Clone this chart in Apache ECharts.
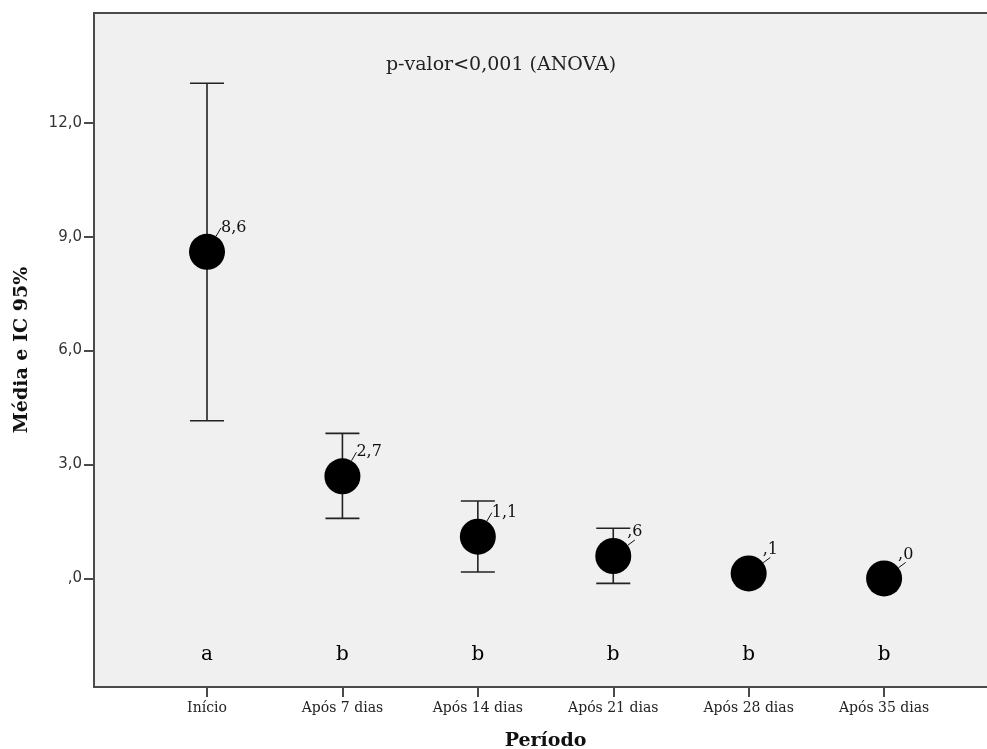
<!DOCTYPE html>
<html>
<head>
<meta charset="utf-8">
<script src="https://cdn.jsdelivr.net/npm/echarts@6/dist/echarts.min.js"></script>
<style>
  html, body { margin: 0; padding: 0; background: #fff; }
  #chart { width: 987px; height: 749px; }
</style>
</head>
<body>
<div id="chart"></div>
<script>
// categorias (período)
var categories = ['Início', 'Após 7 dias', 'Após 14 dias', 'Após 21 dias', 'Após 28 dias', 'Após 35 dias'];
// média e IC 95%
var means = [8.6, 2.69, 1.1, 0.59, 0.13, 0.0];
var ciLow = [4.15, 1.58, 0.17, -0.13, null, null];
var ciHigh = [13.04, 3.82, 2.04, 1.32, null, null];
// letras de comparação
var groupLetters = ['a', 'b', 'b', 'b', 'b', 'b'];
var letterLevel = -2;
var yTicks = [0, 3, 6, 9, 12];
var subtitle = 'p-valor<0,001 (ANOVA)';

function fmt(v) {
  var s = v.toFixed(1);
  if (s.indexOf('0.') === 0) s = s.slice(1);
  if (s.indexOf('-0.') === 0) s = '-' + s.slice(2);
  return s.replace('.', ',');
}

var errData = [];
for (var i = 0; i < categories.length; i++) {
  if (ciLow[i] != null) errData.push([i, ciLow[i], ciHigh[i]]);
}
var meanData = means.map(function (v, i) { return [i, v]; });
var letterData = groupLetters.map(function (l, i) { return { value: [i, letterLevel], name: l }; });

var chart = echarts.init(document.getElementById('chart'));
chart.setOption({
  animation: false,
  title: {
    text: subtitle,
    left: 496,
    top: 51,
    textAlign: 'center',
    textStyle: { fontFamily: 'DejaVu Serif', fontSize: 19, fontWeight: 'normal', color: '#222' }
  },
  grid: [
    { left: 94, top: 13, right: -12, bottom: 62, show: true, backgroundColor: '#f0f0f0', borderColor: '#4a4a4a', borderWidth: 2, outerBoundsMode: 'none' },
    { left: 139.3, top: 13, right: 35.2, bottom: 62, outerBoundsMode: 'none' }
  ],
  xAxis: [
    { gridIndex: 0, type: 'value', show: false, min: 0, max: 1 },
    {
      gridIndex: 1, type: 'category', data: categories,
      axisLine: { show: false, onZero: false },
      axisTick: { show: true, alignWithLabel: true, length: 10, lineStyle: { color: '#4a4a4a', width: 2 } },
      axisLabel: { fontFamily: 'DejaVu Serif', fontSize: 14, color: '#222', margin: 14 },
      name: 'Período', nameLocation: 'middle', nameGap: 45,
      nameTextStyle: { fontFamily: 'DejaVu Serif', fontSize: 19, fontWeight: 'bold', color: '#111' }
    }
  ],
  yAxis: [
    {
      gridIndex: 0, type: 'value', min: -2.86, max: 14.89,
      axisLine: { show: true, lineStyle: { color: '#4a4a4a', width: 2 } },
      axisTick: { show: true, length: 10, customValues: yTicks, lineStyle: { color: '#4a4a4a', width: 2 } },
      axisLabel: { customValues: yTicks, formatter: fmt, fontFamily: 'DejaVu Sans', fontSize: 15, color: '#333', margin: 12 },
      splitLine: { show: false },
      name: 'Média e IC 95%', nameLocation: 'middle', nameGap: 62,
      nameTextStyle: { fontFamily: 'DejaVu Serif', fontSize: 19, fontWeight: 'bold', color: '#111' }
    },
    { gridIndex: 1, type: 'value', min: -2.86, max: 14.89, show: false, splitLine: { show: false } }
  ],
  series: [
    {
      type: 'custom', xAxisIndex: 1, yAxisIndex: 1, data: errData,
      renderItem: function (params, api) {
        var x = api.value(0);
        var lo = api.coord([x, api.value(1)]);
        var hi = api.coord([x, api.value(2)]);
        var hw = 17;
        var st = { stroke: '#222', lineWidth: 1.6 };
        return {
          type: 'group',
          children: [
            { type: 'line', shape: { x1: hi[0], y1: hi[1], x2: lo[0], y2: lo[1] }, style: st },
            { type: 'line', shape: { x1: hi[0] - hw, y1: hi[1], x2: hi[0] + hw, y2: hi[1] }, style: st },
            { type: 'line', shape: { x1: lo[0] - hw, y1: lo[1], x2: lo[0] + hw, y2: lo[1] }, style: st }
          ]
        };
      },
      z: 2
    },
    {
      type: 'scatter', xAxisIndex: 1, yAxisIndex: 1, data: meanData,
      symbolSize: 36, itemStyle: { color: '#000', opacity: 1 },
      label: {
        show: true, position: 'right', distance: 0,
        formatter: function (p) { return fmt(p.value[1]); },
        fontFamily: 'DejaVu Serif', fontSize: 16, color: '#111'
      },
      labelLayout: { dx: -4, dy: -24 },
      labelLine: { show: true, lineStyle: { color: '#111', width: 1 } },
      z: 3
    },
    {
      type: 'scatter', xAxisIndex: 1, yAxisIndex: 1, data: letterData,
      symbolSize: 1, itemStyle: { color: '#f0f0f0', opacity: 1 },
      label: {
        show: true, position: 'inside',
        formatter: function (p) { return p.name; },
        fontFamily: 'DejaVu Serif', fontSize: 20, color: '#000'
      },
      z: 3
    }
  ]
});
</script>
</body>
</html>
